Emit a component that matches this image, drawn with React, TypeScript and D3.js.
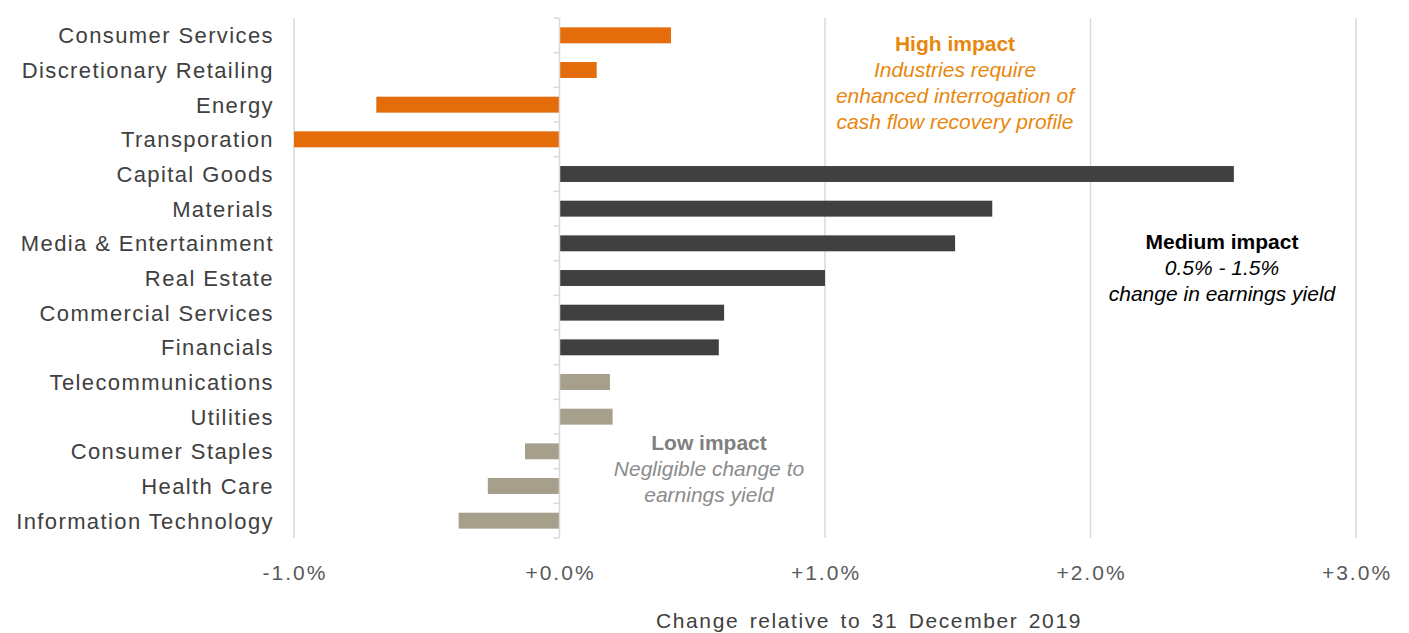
import React from "react";
import * as d3 from "d3";

const categories = [
  "Consumer Services",
  "Discretionary Retailing",
  "Energy",
  "Transporation",
  "Capital Goods",
  "Materials",
  "Media & Entertainment",
  "Real Estate",
  "Commercial Services",
  "Financials",
  "Telecommunications",
  "Utilities",
  "Consumer Staples",
  "Health Care",
  "Information Technology",
];
const values = [0.42, 0.14, -0.69, -1.0, 2.54, 1.63, 1.49, 1.0, 0.62, 0.6, 0.19, 0.2, -0.13, -0.27, -0.38];
const groups = ["high", "high", "high", "high", "medium", "medium", "medium", "medium", "medium", "medium", "low", "low", "low", "low", "low"];
const xTicks = [-1, 0, 1, 2, 3];
const tickLabels = ["-1.0%", "+0.0%", "+1.0%", "+2.0%", "+3.0%"];
const axisTitle = "Change relative to 31 December 2019";
const annotations = [
  { group: "high", title: "High impact", lines: ["Industries require", "enhanced interrogation of", "cash flow recovery profile"] },
  { group: "medium", title: "Medium impact", lines: ["0.5% - 1.5%", "change in earnings yield"] },
  { group: "low", title: "Low impact", lines: ["Negligible change to", "earnings yield"] },
];

const W = 1409;
const H = 633;
const FONT = "'Liberation Sans', Arial, sans-serif";

const barColor: Record<string, string> = { high: "#E46C0A", medium: "#404040", low: "#A69F8C" };
const titleColor: Record<string, string> = { high: "#E8870E", medium: "#000000", low: "#7F7F7F" };
const lineColor: Record<string, string> = { high: "#E8870E", medium: "#000000", low: "#8C8C8C" };
const annotPos: Record<string, [number, number]> = { high: [955, 51], medium: [1222, 249], low: [709, 450] };

export default function App() {
  const x = d3.scaleLinear().domain([-1, 3]).range([294, 1356]);
  const y = d3.scaleBand<string>().domain(categories).range([18, 538]).paddingInner(0.54).paddingOuter(0.27);
  const step = y.step();
  const boundaries = d3.range(categories.length + 1).map((i) => 18 + i * step);

  return (
    <svg width={W} height={H} style={{ position: "absolute", left: 0, top: 0, background: "#fff" }} fontFamily={FONT}>
      {xTicks.filter((t) => t !== 0).map((t) => (
        <line key={"g" + t} x1={x(t)} x2={x(t)} y1={18} y2={538} stroke="#D9D9D9" strokeWidth={1.5} />
      ))}
      {categories.map((c, i) => {
        const v = values[i];
        const x0 = x(Math.min(0, v));
        const x1 = x(Math.max(0, v));
        return <rect key={c} x={x0} y={y(c)} width={x1 - x0} height={y.bandwidth()} fill={barColor[groups[i]]} />;
      })}
      <line x1={x(0)} x2={x(0)} y1={18} y2={538} stroke="#D9D9D9" strokeWidth={1.5} />
      {boundaries.map((b, i) => (
        <line key={"t" + i} x1={x(0) - 6} x2={x(0)} y1={b} y2={b} stroke="#D9D9D9" strokeWidth={1.5} />
      ))}
      {categories.map((c) => (
        <text key={"l" + c} x={274} y={(y(c) as number) + y.bandwidth() / 2} dy="0.36em" textAnchor="end" fontSize={22} letterSpacing={1.4} fill="#404040">
          {c}
        </text>
      ))}
      {xTicks.map((t, i) => (
        <text key={"tl" + t} x={x(t) + 1} y={580} textAnchor="middle" fontSize={21} letterSpacing={2} fill="#595959">
          {tickLabels[i]}
        </text>
      ))}
      <text x={869} y={628} textAnchor="middle" fontSize={21} letterSpacing={1.6} wordSpacing={3} fill="#404040">
        {axisTitle}
      </text>
      {annotations.map((a) => {
        const [ax, ay] = annotPos[a.group];
        return (
          <g key={a.group}>
            <text x={ax} y={ay} textAnchor="middle" fontSize={21} fontWeight="bold" fill={titleColor[a.group]}>
              {a.title}
            </text>
            {a.lines.map((l, j) => (
              <text key={j} x={ax} y={ay + 26 * (j + 1)} textAnchor="middle" fontSize={21} fontStyle="italic" fill={lineColor[a.group]}>
                {l}
              </text>
            ))}
          </g>
        );
      })}
    </svg>
  );
}
